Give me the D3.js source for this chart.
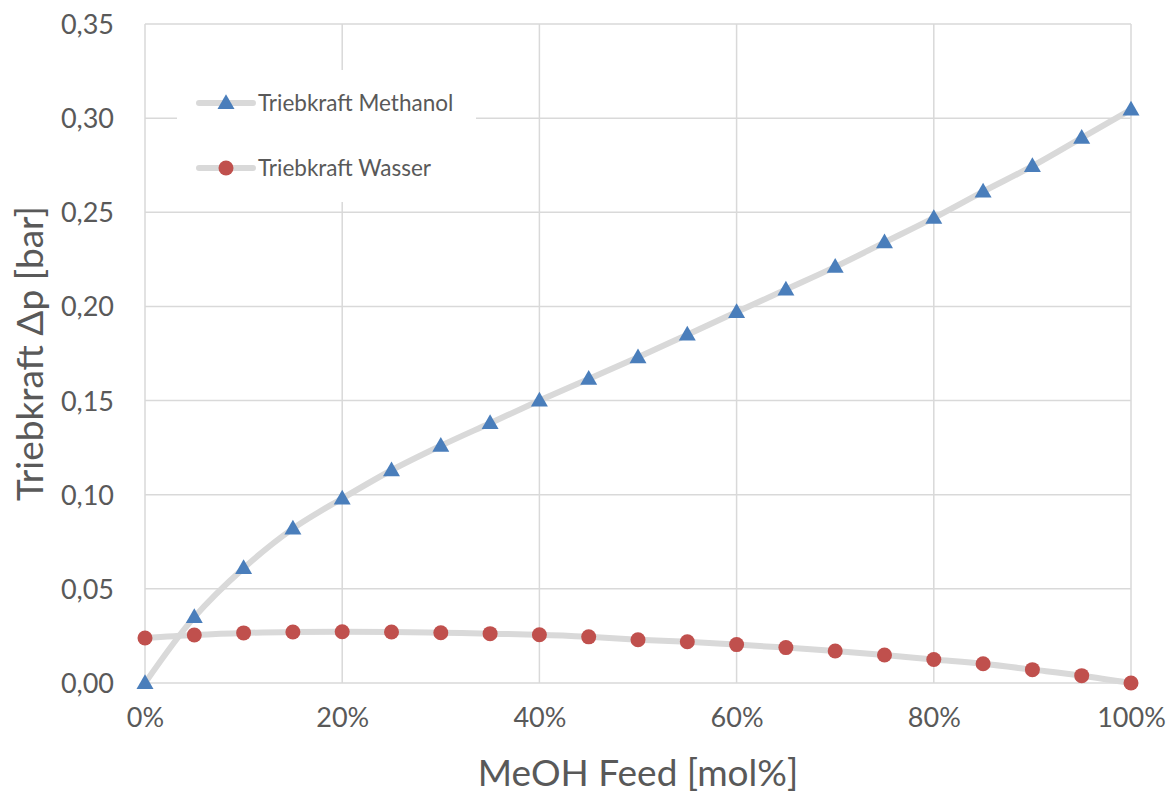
<!DOCTYPE html>
<html>
<head>
<meta charset="utf-8">
<script src="https://cdn.jsdelivr.net/npm/d3@7"></script>
<style>
  body { margin: 0; background: #fff; }
  svg text { font-family: Lato, "Open Sans", sans-serif; fill: #595959; }
</style>
</head>
<body>
<div id="chart"></div>
<script>
var feed = [0, 5, 10, 15, 20, 25, 30, 35, 40, 45, 50, 55, 60, 65, 70, 75, 80, 85, 90, 95, 100];
var methanol = [0.000, 0.035, 0.061, 0.082, 0.098, 0.113, 0.126, 0.138, 0.150, 0.1615, 0.173, 0.185, 0.197,
    0.209, 0.221, 0.234, 0.247, 0.261, 0.2745, 0.2895, 0.3045];
var wasser = [0.0239, 0.0255, 0.0266, 0.0271, 0.0272, 0.0271, 0.0267, 0.0262, 0.0256, 0.0245, 0.0230,
    0.0219, 0.0204, 0.0188, 0.0170, 0.0149, 0.0125, 0.0102, 0.0071, 0.0039, 0.0000];
var yTicks = [0, 0.05, 0.10, 0.15, 0.20, 0.25, 0.30, 0.35];
var xTicks = [0, 20, 40, 60, 80, 100];
var seriesNames = ['Triebkraft Methanol', 'Triebkraft Wasser'];

var width = 1169;
var height = 796;
var margin = {left: 145, right: 38, top: 24, bottom: 113};

var svg = d3.select('#chart')
    .append('svg')
    .attr('width', width)
    .attr('height', height);

var x = d3.scaleLinear()
    .domain([0, 100])
    .range([margin.left, width - margin.right]);

var y = d3.scaleLinear()
    .domain([0, 0.35])
    .range([height - margin.bottom, margin.top]);

var de = d3.formatLocale({decimal: ',', thousands: '.', grouping: [3], currency: ['', ' €']});
var fmtY = de.format('.2f');

// gridlines
svg.append('g')
    .selectAll('line')
    .data(yTicks)
    .enter()
    .append('line')
    .attr('x1', x(0))
    .attr('x2', x(100))
    .attr('y1', d => y(d))
    .attr('y2', d => y(d))
    .attr('stroke', '#d9d9d9')
    .attr('stroke-width', 1.5);

svg.append('g')
    .selectAll('line')
    .data(xTicks)
    .enter()
    .append('line')
    .attr('x1', d => x(d))
    .attr('x2', d => x(d))
    .attr('y1', y(0))
    .attr('y2', y(0.35))
    .attr('stroke', '#d9d9d9')
    .attr('stroke-width', 1.5);

// axes
var yAxis = svg.append('g')
    .attr('transform', 'translate(' + x(0) + ',0)')
    .call(d3.axisLeft(y).tickValues(yTicks).tickFormat(fmtY).tickSize(0).tickPadding(31));
yAxis.select('.domain').remove();
yAxis.selectAll('text').attr('font-size', 27).attr('dy', '0.35em').style('fill', '#595959');

var xAxis = svg.append('g')
    .attr('transform', 'translate(0,' + y(0) + ')')
    .call(d3.axisBottom(x).tickValues(xTicks).tickFormat(d => d + '%').tickSize(0).tickPadding(25));
xAxis.select('.domain').remove();
xAxis.selectAll('text').attr('font-size', 27).style('fill', '#595959');

// axis titles
svg.append('text')
    .attr('transform', 'translate(43,' + ((y(0) + y(0.35)) / 2) + ') rotate(-90)')
    .attr('text-anchor', 'middle')
    .attr('font-size', 37)
    .text('Triebkraft Δp [bar]');

svg.append('text')
    .attr('x', (x(0) + x(100)) / 2)
    .attr('y', 786)
    .attr('text-anchor', 'middle')
    .attr('font-size', 37)
    .text('MeOH Feed [mol%]');

// legend background
svg.append('rect')
    .attr('x', 177)
    .attr('y', 70)
    .attr('width', 299)
    .attr('height', 132)
    .attr('fill', '#fff');

var line = d3.line()
    .x((d, i) => x(feed[i]))
    .y(d => y(d))
    .curve(d3.curveCatmullRom.alpha(0.5));

svg.append('path')
    .attr('d', line(wasser))
    .attr('fill', 'none')
    .attr('stroke', '#d9d9d9')
    .attr('stroke-width', 6);

svg.append('path')
    .attr('d', line(methanol))
    .attr('fill', 'none')
    .attr('stroke', '#d9d9d9')
    .attr('stroke-width', 6);

var tri = d3.symbol().type(d3.symbolTriangle).size(125);

svg.append('g')
    .selectAll('circle')
    .data(wasser)
    .enter()
    .append('circle')
    .attr('cx', (d, i) => x(feed[i]))
    .attr('cy', d => y(d))
    .attr('r', 7.5)
    .attr('fill', '#c0504d');

svg.append('g')
    .selectAll('path')
    .data(methanol)
    .enter()
    .append('path')
    .attr('d', tri)
    .attr('transform', (d, i) => 'translate(' + x(feed[i]) + ',' + (y(d) + 1) + ')')
    .attr('fill', '#4a7ebb');

// legend
var legend = svg.append('g')
    .selectAll('g')
    .data(seriesNames)
    .enter()
    .append('g')
    .attr('transform', (d, i) => 'translate(199,' + (103 + i * 65) + ')');

legend.append('line')
    .attr('x1', 0)
    .attr('x2', 54)
    .attr('stroke', '#d9d9d9')
    .attr('stroke-width', 6)
    .attr('stroke-linecap', 'round');

legend.filter((d, i) => i == 0)
    .append('path')
    .attr('d', tri)
    .attr('transform', 'translate(27,1)')
    .attr('fill', '#4a7ebb');

legend.filter((d, i) => i == 1)
    .append('circle')
    .attr('cx', 27)
    .attr('r', 7.5)
    .attr('fill', '#c0504d');

legend.append('text')
    .attr('x', 59)
    .attr('dy', '0.35em')
    .attr('font-size', 22.5)
    .text(d => d);
</script>
</body>
</html>
